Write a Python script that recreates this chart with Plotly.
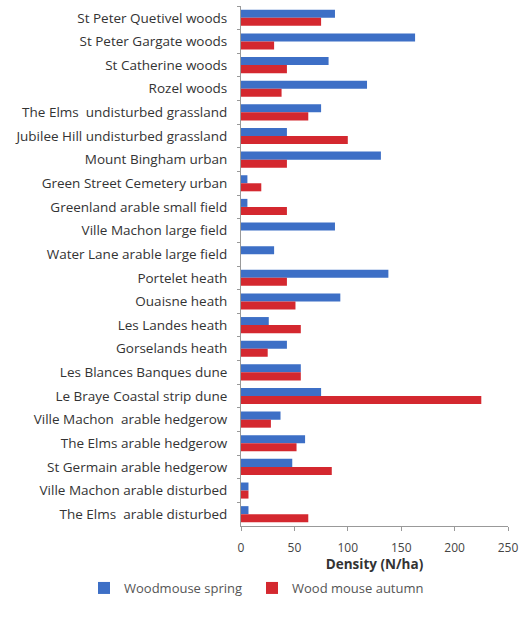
import plotly.graph_objects as go

categories = [
    "St Peter Quetivel woods",
    "St Peter Gargate woods",
    "St Catherine woods",
    "Rozel woods",
    "The Elms  undisturbed grassland",
    "Jubilee Hill undisturbed grassland",
    "Mount Bingham urban",
    "Green Street Cemetery urban",
    "Greenland arable small field",
    "Ville Machon large field",
    "Water Lane arable large field",
    "Portelet heath",
    "Ouaisne heath",
    "Les Landes heath",
    "Gorselands heath",
    "Les Blances Banques dune",
    "Le Braye Coastal strip dune",
    "Ville Machon  arable hedgerow",
    "The Elms arable hedgerow",
    "St Germain arable hedgerow",
    "Ville Machon arable disturbed",
    "The Elms  arable disturbed",
]
spring = [88, 163, 82, 118, 75, 43, 131, 6, 6, 88, 31, 138, 93, 26, 43, 56, 75, 37, 60, 48, 7, 7]
autumn = [75, 31, 43, 38, 63, 100, 43, 19, 43, 0, 0, 43, 51, 56, 25, 56, 225, 28, 52, 85, 7, 63]

FONT = "Open Sans"
fig = go.Figure()
fig.add_trace(go.Bar(y=categories, x=spring, orientation="h", name="Woodmouse spring",
                     marker=dict(color="#3d6fc6", line=dict(width=0)), legend="legend"))
fig.add_trace(go.Bar(y=categories, x=autumn, orientation="h", name="Wood mouse autumn",
                     marker=dict(color="#d4282f", line=dict(width=0)), legend="legend2"))

leg_common = dict(orientation="h", xref="container", xanchor="left",
                  yref="container", yanchor="middle", y=1 - 588 / 628,
                  font=dict(size=13, color="#555555"), itemwidth=30,
                  bgcolor="rgba(0,0,0,0)")

fig.update_layout(
    width=521, height=628,
    margin=dict(l=241, r=13, t=6, b=102, autoexpand=False),
    paper_bgcolor="white", plot_bgcolor="white",
    barmode="group", bargap=0.32, bargroupgap=0,
    font=dict(family=FONT, size=13, color="#333333"),
    showlegend=True,
    legend=dict(x=84 / 521, **leg_common),
    legend2=dict(x=252 / 521, **leg_common),
    xaxis=dict(range=[0, 250], dtick=50, showgrid=False, zeroline=False, automargin=False,
               showline=True, linecolor="#999999", linewidth=1,
               ticks="outside", ticklen=4, tickcolor="#999999", ticklabelstandoff=7,
               tickfont=dict(size=12, color="#444444"),
               title=dict(text="<b>Density (N/ha)</b>", font=dict(size=13.5, color="#333333"), standoff=5)),
    yaxis=dict(autorange="reversed", showgrid=False, automargin=False,
               showline=True, linecolor="#999999", linewidth=1,
               ticks="outside", ticklen=3, tickcolor="#999999", tickson="boundaries",
               tickfont=dict(size=13.5, color="#333333"), ticklabelstandoff=10),
)

fig.write_html("out.html", config={"displayModeBar": False},
               post_script="document.body.style.margin='0';document.body.style.overflow='hidden';")
